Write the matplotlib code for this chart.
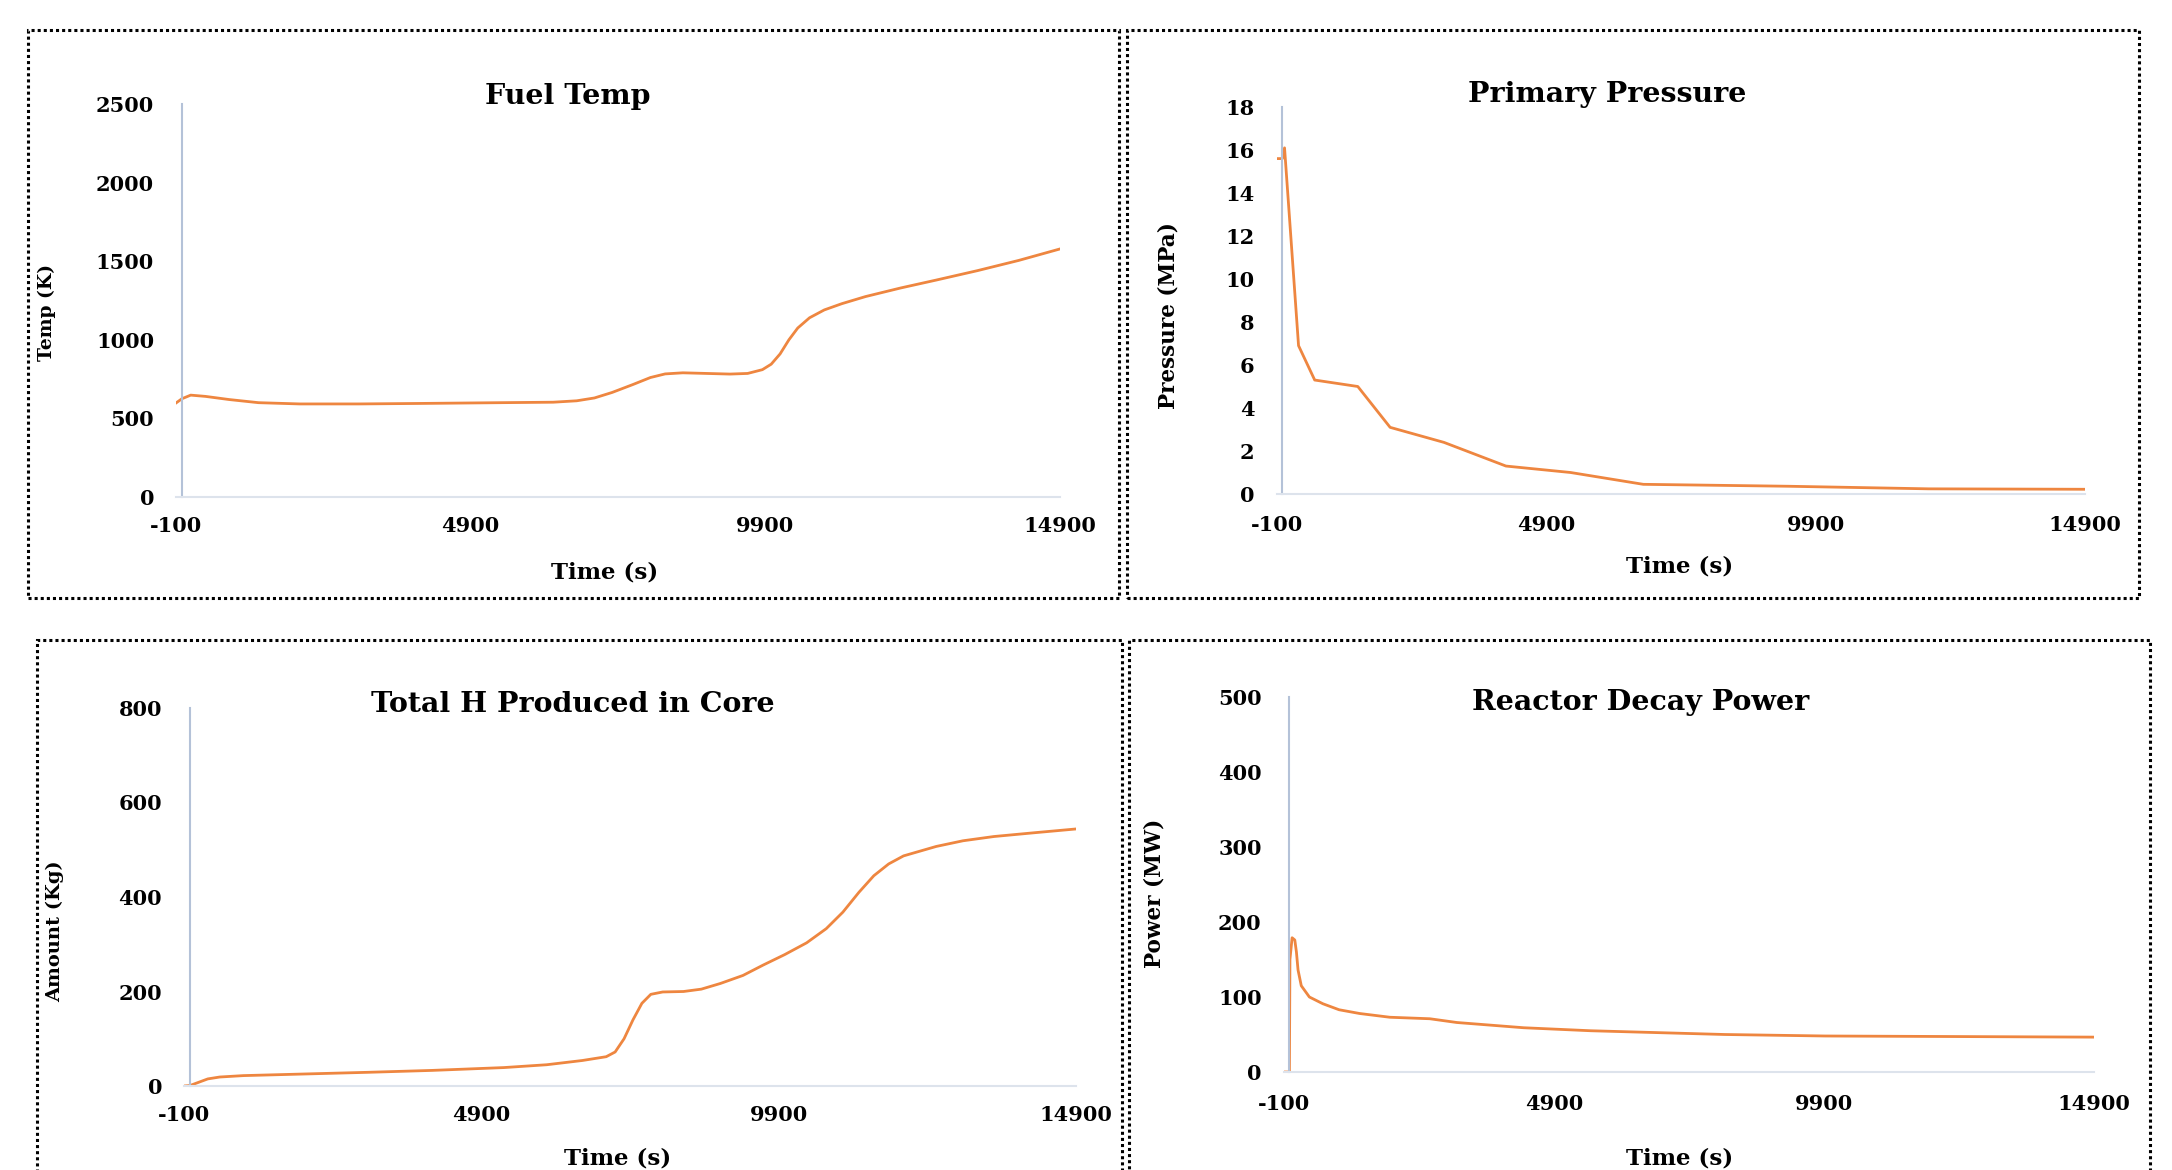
import matplotlib
matplotlib.use("Agg")
import matplotlib.pyplot as plt
from matplotlib.patches import Rectangle

# fuel temperature (K)
temp_t = [-100, 0, 150, 400, 800, 1300, 2000, 3000, 4000, 5400, 6300, 6700, 7000, 7300,
          7650, 7950, 8200, 8500, 8900, 9300, 9600, 9850, 10000, 10150, 10300, 10450,
          10650, 10900, 11200, 11600, 12200, 12800, 13500, 14200, 14900]
temp_k = [598, 625, 648, 640, 620, 600, 592, 592, 595, 600, 603, 612, 630, 665,
          715, 760, 783, 790, 786, 782, 786, 810, 845, 910, 1000, 1075,
          1140, 1190, 1230, 1275, 1330, 1380, 1440, 1505, 1578]

# primary pressure (MPa)
pres_t = [-100, 0, 40, 300, 600, 1400, 2000, 3000, 4150, 5350, 6700, 9400, 12000, 14900]
pres_mpa = [15.6, 15.6, 16.1, 6.9, 5.3, 5.0, 3.1, 2.4, 1.3, 1.0, 0.45, 0.36, 0.24, 0.22]

# total hydrogen produced (kg)
h_t = [-100, 0, 150, 300, 500, 900, 1650, 3000, 4070, 5280, 6000, 6600, 7000, 7150,
       7300, 7450, 7600, 7750, 7950, 8300, 8600, 8920, 9300, 9640, 10000, 10370,
       10700, 10980, 11250, 11500, 11750, 12000, 12550, 13000, 13520, 14200, 14900]
h_kg = [0, 1, 8, 15, 19, 22, 24.5, 29, 33, 39, 45, 54, 62, 72,
        100, 140, 175, 194, 199, 200, 205, 217, 234, 256, 278, 303,
        333, 368, 410, 445, 470, 487, 507, 519, 528, 536, 544]

# decay power (MW)
pow_t = [-100, 0, 10, 50, 100, 130, 160, 220, 370, 620, 920, 1300, 1860, 2600, 3100,
         4340, 5580, 8060, 9925, 14900]
pow_mw = [0, 0, 150, 179, 176, 160, 136, 115, 100, 91, 83, 78, 73, 71, 66,
          59, 55, 50, 48, 46.5]

x_ticks = [-100, 4900, 9900, 14900]

W, H = 2172, 1170
plt.rcParams['font.family'] = ['DejaVu Serif']
plt.rcParams['font.weight'] = 'bold'
plt.rcParams['axes.unicode_minus'] = False

fig = plt.figure(figsize=(W / 100, H / 100), dpi=100)


def fx(x):
    return x / W


def fy(y):
    return 1 - y / H


def make_ax(l, r, top, bottom):
    return fig.add_axes([fx(l), fy(bottom), (r - l) / W, (bottom - top) / H])


orange = '#EE8640'

panels = [
    # (box, axes px, x, y, ylim, yticks, title, title pos, xlabel pos, ylabel, ylabel pos, ylabel size, xpad)
    ((28, 1119, 30, 598), (176, 1060, 104, 497), temp_t, temp_k, (0, 2500),
     [0, 500, 1000, 1500, 2000, 2500], 'Fuel Temp', (568, 96), (605, 573),
     'Temp (K)', (47, 313), 13.5, 14),
    ((1127, 2139, 30, 598), (1277, 2085, 107, 494), pres_t, pres_mpa, (0, 18),
     list(range(0, 19, 2)), 'Primary Pressure', (1607, 94), (1680, 566),
     'Pressure (MPa)', (1168, 316), 15.5, 15),
    ((37, 1122, 640, 1200), (184, 1076, 708, 1086), h_t, h_kg, (0, 800),
     [0, 200, 400, 600, 800], 'Total H Produced in Core', (573, 704), (618, 1158),
     'Amount (Kg)', (55, 931), 14, 14),
    ((1129, 2150, 640, 1200), (1284, 2094, 697, 1072), pow_t, pow_mw, (0, 500),
     [0, 100, 200, 300, 400, 500], 'Reactor Decay Power', (1641, 703), (1680, 1158),
     'Power (MW)', (1154, 893), 15.5, 16),
]

for box, axpx, xs, ys, ylim, yticks, title, tpos, xlpos, ylab, ylpos, ylsize, xpad in panels:
    ax = make_ax(*axpx)
    ax.plot(xs, ys, color=orange, lw=2.0, solid_joinstyle='round')
    ax.set_xlim(-100, 14900)
    ax.set_ylim(*ylim)
    ax.set_xticks(x_ticks)
    ax.set_yticks(yticks)
    ax.spines['top'].set_visible(False)
    ax.spines['right'].set_visible(False)
    ax.spines['left'].set_position(('data', 0))
    ax.spines['left'].set_color('#b4c2d8')
    ax.spines['bottom'].set_color('#dde3ec')
    ax.spines['left'].set_linewidth(1.5)
    ax.spines['bottom'].set_linewidth(1.5)
    ax.tick_params(axis='y', length=0, pad=20, labelsize=15)
    ax.tick_params(axis='x', length=0, pad=xpad, labelsize=15)
    ax.patch.set_alpha(0)

    fig.text(fx(tpos[0]), fy(tpos[1]), title, ha='center', va='center',
             fontsize=20.5, fontweight='bold')
    fig.text(fx(xlpos[0]), fy(xlpos[1]), 'Time (s)', ha='center', va='center',
             fontsize=16.5, fontweight='bold')
    fig.text(fx(ylpos[0]), fy(ylpos[1]), ylab, ha='center', va='center',
             rotation=90, fontsize=ylsize, fontweight='bold')

    l, r, top, bottom = box
    fig.patches.append(Rectangle((fx(l), fy(bottom)), (r - l) / W, (bottom - top) / H,
                                 transform=fig.transFigure, fill=False,
                                 ls=(0, (1, 1)), lw=2.2, color='black'))

fig.savefig('out.png', dpi=100)
